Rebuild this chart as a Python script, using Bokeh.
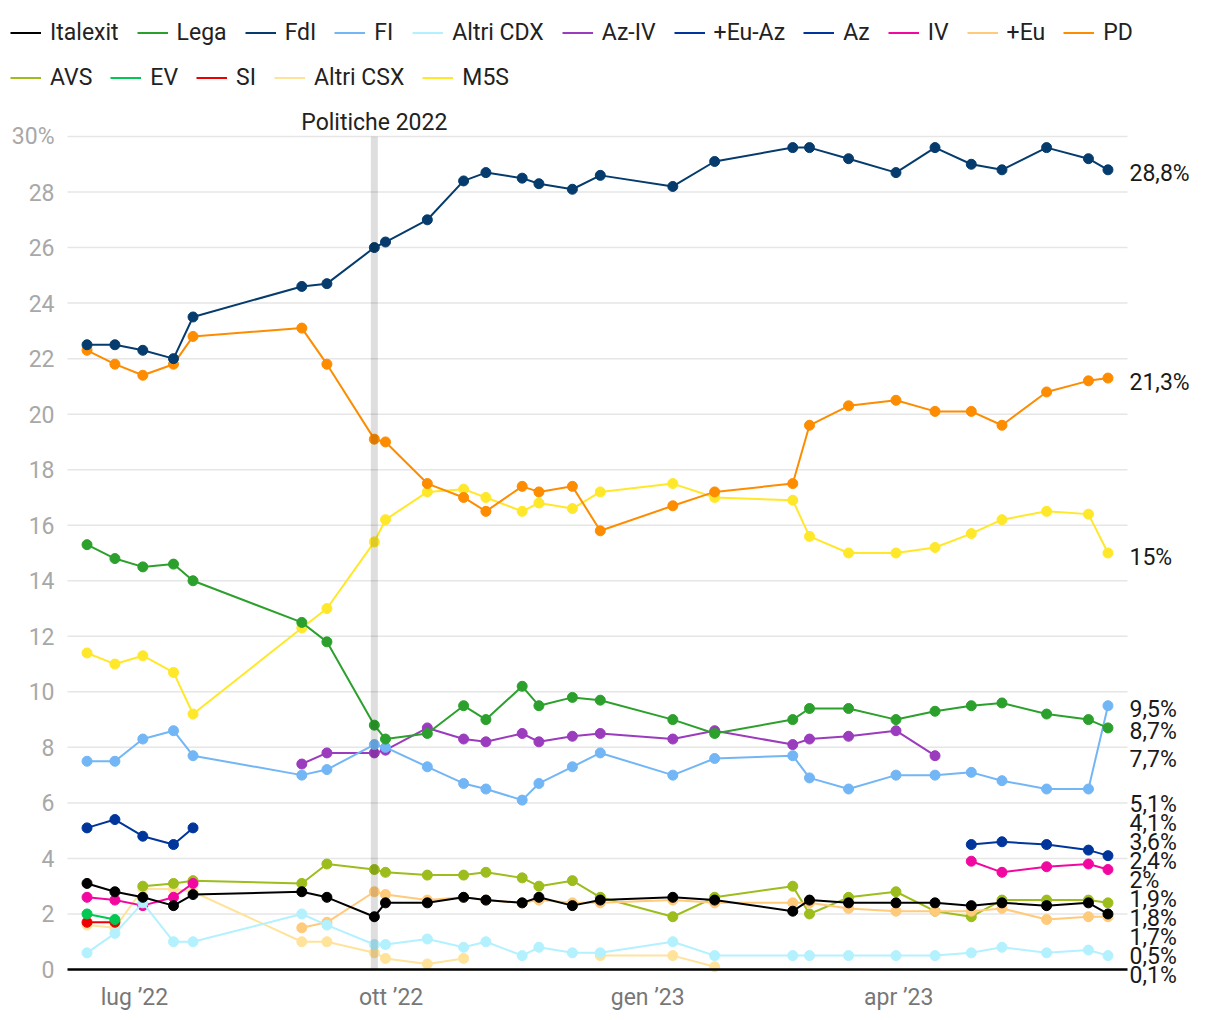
import numpy as np
import pandas as pd
from datetime import datetime
from bokeh.plotting import figure
from bokeh.models import ColumnDataSource, Range1d, Legend, LegendItem, Label
from bokeh.core.properties import value
from bokeh.embed import file_html
from bokeh.resources import INLINE

N = None

# ---------------- data ----------------
dates = ["2022-06-14", "2022-06-24", "2022-07-04", "2022-07-15", "2022-07-22",
         "2022-08-30", "2022-09-08", "2022-09-25", "2022-09-29", "2022-10-14",
         "2022-10-27", "2022-11-04", "2022-11-17", "2022-11-23", "2022-12-05",
         "2022-12-15", "2023-01-10", "2023-01-25", "2023-02-22", "2023-02-28",
         "2023-03-14", "2023-03-31", "2023-04-14", "2023-04-27", "2023-05-08",
         "2023-05-24", "2023-06-08", "2023-06-15"]

italexit = [3.1, 2.8, 2.6, 2.3, 2.7, 2.8, 2.6, 1.9, 2.4, 2.4, 2.6, 2.5, 2.4, 2.6,
            2.3, 2.5, 2.6, 2.5, 2.1, 2.5, 2.4, 2.4, 2.4, 2.3, 2.4, 2.3, 2.4, 2.0]
lega = [15.3, 14.8, 14.5, 14.6, 14.0, 12.5, 11.8, 8.8, 8.3, 8.5, 9.5, 9.0, 10.2, 9.5,
        9.8, 9.7, 9.0, 8.5, 9.0, 9.4, 9.4, 9.0, 9.3, 9.5, 9.6, 9.2, 9.0, 8.7]
fdi = [22.5, 22.5, 22.3, 22.0, 23.5, 24.6, 24.7, 26.0, 26.2, 27.0, 28.4, 28.7, 28.5, 28.3,
       28.1, 28.6, 28.2, 29.1, 29.6, 29.6, 29.2, 28.7, 29.6, 29.0, 28.8, 29.6, 29.2, 28.8]
fi = [7.5, 7.5, 8.3, 8.6, 7.7, 7.0, 7.2, 8.1, 8.0, 7.3, 6.7, 6.5, 6.1, 6.7,
      7.3, 7.8, 7.0, 7.6, 7.7, 6.9, 6.5, 7.0, 7.0, 7.1, 6.8, 6.5, 6.5, 9.5]
altri_cdx = [0.6, 1.3, 2.4, 1.0, 1.0, 2.0, 1.6, 0.9, 0.9, 1.1, 0.8, 1.0, 0.5, 0.8,
             0.6, 0.6, 1.0, 0.5, 0.5, 0.5, 0.5, 0.5, 0.5, 0.6, 0.8, 0.6, 0.7, 0.5]
az_iv = [N, N, N, N, N, 7.4, 7.8, 7.8, 7.9, 8.7, 8.3, 8.2, 8.5, 8.2,
         8.4, 8.5, 8.3, 8.6, 8.1, 8.3, 8.4, 8.6, 7.7, N, N, N, N, N]
eu_az = [5.1, 5.4, 4.8, 4.5, 5.1, N, N, N, N, N, N, N, N, N,
         N, N, N, N, N, N, N, N, N, N, N, N, N, N]
az = [N, N, N, N, N, N, N, N, N, N, N, N, N, N,
      N, N, N, N, N, N, N, N, N, 4.5, 4.6, 4.5, 4.3, 4.1]
iv = [2.6, 2.5, 2.3, 2.6, 3.1, N, N, N, N, N, N, N, N, N,
      N, N, N, N, N, N, N, N, N, 3.9, 3.5, 3.7, 3.8, 3.6]
eu = [N, N, N, N, N, 1.5, 1.7, 2.8, 2.7, 2.5, 2.6, 2.5, 2.4, 2.5,
      2.4, 2.4, 2.5, 2.4, 2.4, 2.4, 2.2, 2.1, 2.1, 2.1, 2.2, 1.8, 1.9, 1.9]
pd_vals = [22.3, 21.8, 21.4, 21.8, 22.8, 23.1, 21.8, 19.1, 19.0, 17.5, 17.0, 16.5, 17.4, 17.2,
           17.4, 15.8, 16.7, 17.2, 17.5, 19.6, 20.3, 20.5, 20.1, 20.1, 19.6, 20.8, 21.2, 21.3]
avs = [N, N, 3.0, 3.1, 3.2, 3.1, 3.8, 3.6, 3.5, 3.4, 3.4, 3.5, 3.3, 3.0,
       3.2, 2.6, 1.9, 2.6, 3.0, 2.0, 2.6, 2.8, 2.1, 1.9, 2.5, 2.5, 2.5, 2.4]
ev = [2.0, 1.8, N, N, N, N, N, N, N, N, N, N, N, N,
      N, N, N, N, N, N, N, N, N, N, N, N, N, N]
si = [1.7, 1.7, N, N, N, N, N, N, N, N, N, N, N, N,
      N, N, N, N, N, N, N, N, N, N, N, N, N, N]
altri_csx = [1.6, 1.5, 2.9, 2.9, 2.8, 1.0, 1.0, 0.6, 0.4, 0.2, 0.4, N, N, N,
             N, 0.5, 0.5, 0.1, N, N, N, N, N, N, N, N, N, N]
m5s = [11.4, 11.0, 11.3, 10.7, 9.2, 12.3, 13.0, 15.4, 16.2, 17.2, 17.3, 17.0, 16.5, 16.8,
       16.6, 17.2, 17.5, 17.0, 16.9, 15.6, 15.0, 15.0, 15.2, 15.7, 16.2, 16.5, 16.4, 15.0]

names = ["Italexit", "Lega", "FdI", "FI", "Altri CDX", "Az-IV", "+Eu-Az", "Az", "IV",
         "+Eu", "PD", "AVS", "EV", "SI", "Altri CSX", "M5S"]
values = [italexit, lega, fdi, fi, altri_cdx, az_iv, eu_az, az, iv,
          eu, pd_vals, avs, ev, si, altri_csx, m5s]
colors = ["#000000", "#2ca02c", "#053c6d", "#72b6f6", "#b3f1ff", "#9b3bbd", "#00359c",
          "#00359c", "#f208a0", "#ffca7a", "#fd8c00", "#9cbd1c", "#00c853", "#ee0000",
          "#ffe39b", "#ffe82a"]

y_ticks = list(range(0, 31, 2))
y_tick_labels = [str(t) for t in y_ticks[:-1]] + ["30%"]
x_ticks = ["2022-07-01", "2022-10-01", "2023-01-01", "2023-04-01"]
x_tick_labels = ["lug \u201922", "ott \u201922", "gen \u201923", "apr \u201923"]

election_date = "2022-09-25"
election_label = "Politiche 2022"
x_start, x_end = datetime(2022, 6, 7), datetime(2023, 6, 22)
y_min, y_max = 0, 30

FONT = "Roboto"

# ---------------- layout (canvas pixels) ----------------
W, H = 1210, 1012      # canvas = frame size
DL, DR = 67, 1127      # left / right edge of the data area
DT, DB = 136, 969      # top (30%) / bottom (0) of the data area

def ms(d):
    return pd.Timestamp(d).value / 1e6

xs_ms, xe_ms = ms(x_start), ms(x_end)
ppx = (DR - DL) / (xe_ms - xs_ms)
ppy = (DB - DT) / (y_max - y_min)
xr = Range1d(xs_ms - DL / ppx, xe_ms + (W - DR) / ppx)
yr = Range1d(y_min - (H - DB) / ppy, y_max + DT / ppy)

x = pd.to_datetime(dates)

p = figure(frame_width=W, frame_height=H, x_axis_type="datetime",
           x_axis_location=None, y_axis_location=None,
           x_range=xr, y_range=yr, output_backend="svg", toolbar_location=None,
           min_border_left=0, min_border_right=0, min_border_top=0, min_border_bottom=0)
p.outline_line_color = None
p.background_fill_color = "white"
p.border_fill_color = "white"
p.xgrid.visible = False
p.ygrid.visible = False

# horizontal grid lines across the data area
gy = y_ticks[1:]
p.segment(x0=[x_start] * len(gy), y0=gy, x1=[x_end] * len(gy), y1=gy,
          line_color="#e6e6e6", line_width=1.5)

# y tick labels
p.text(x=[x_start] * len(y_ticks), y=y_ticks, text=y_tick_labels, x_offset=-13,
       text_align="right", text_baseline="middle", text_font=value(FONT),
       text_font_size="23px", text_color="#a8a8a8")

# x tick labels
p.text(x=pd.to_datetime(x_ticks), y=[y_min] * len(x_ticks), text=x_tick_labels, y_offset=28,
       text_align="center", text_baseline="middle", text_font=value(FONT),
       text_font_size="23px", text_color="#777777")

# series
line_renderers = {}
for name, vals, col in reversed(list(zip(names, values, colors))):
    y = np.array([np.nan if v is None else v for v in vals], dtype=float)
    src = ColumnDataSource(dict(x=x, y=y))
    lr = p.line("x", "y", source=src, line_color=col, line_width=2)
    p.scatter("x", "y", source=src, size=10, fill_color=col, line_color=col)
    line_renderers[name] = lr

# baseline
p.segment(x0=[x_start], y0=[y_min], x1=[x_end], y1=[y_min], line_color="#000000",
          line_width=2.5)

# election marker
elec = pd.Timestamp(election_date)
p.segment(x0=[elec], y0=[y_min], x1=[elec], y1=[y_max], line_color="black",
          line_alpha=0.13, line_width=7)
p.add_layout(Label(x=ms(elec), y=y_max, text=election_label, text_align="center",
                   text_baseline="alphabetic", y_offset=14, text_font=FONT,
                   text_font_size="23px", text_color="#222222"))

# end labels (last value of each series), spread apart to avoid overlap
last_vals = [[v for v in vals if v is not None][-1] for vals in values]
order = sorted(range(len(names)), key=lambda i: -last_vals[i])
gap = 19 / ppy
lowest = y_min - 6 / ppy
pos = [last_vals[i] - 4 / ppy for i in order]
for _ in range(600):
    for k in range(len(pos) - 1):
        d = pos[k] - pos[k + 1]
        if d < gap:
            m = (gap - d) / 2
            pos[k] += m
            pos[k + 1] -= m
    if pos[-1] < lowest:
        pos[-1] = lowest

def fmt(v):
    return ("%g" % v).replace(".", ",") + "%"

p.text(x=[x_end] * len(order), y=pos, text=[fmt(last_vals[i]) for i in order],
       x_offset=2, text_align="left", text_baseline="middle",
       text_font=value(FONT), text_font_size="23px", text_color="#1a1a1a")

# legends (two rows)
def make_legend(items, loc):
    return Legend(items=[LegendItem(label=n, renderers=[line_renderers[n]]) for n in items],
                  orientation="horizontal", location=loc, glyph_width=31, glyph_height=23,
                  label_standoff=9, spacing=18, padding=0, margin=0,
                  border_line_alpha=0, background_fill_alpha=0,
                  label_text_font=FONT, label_text_font_size="23px",
                  label_text_color="#222222", label_height=23)

p.add_layout(make_legend(names[:11], (10, H - 46)))
p.add_layout(make_legend(names[11:], (10, H - 91)))

open("out.html", "w").write(file_html(p, INLINE))
